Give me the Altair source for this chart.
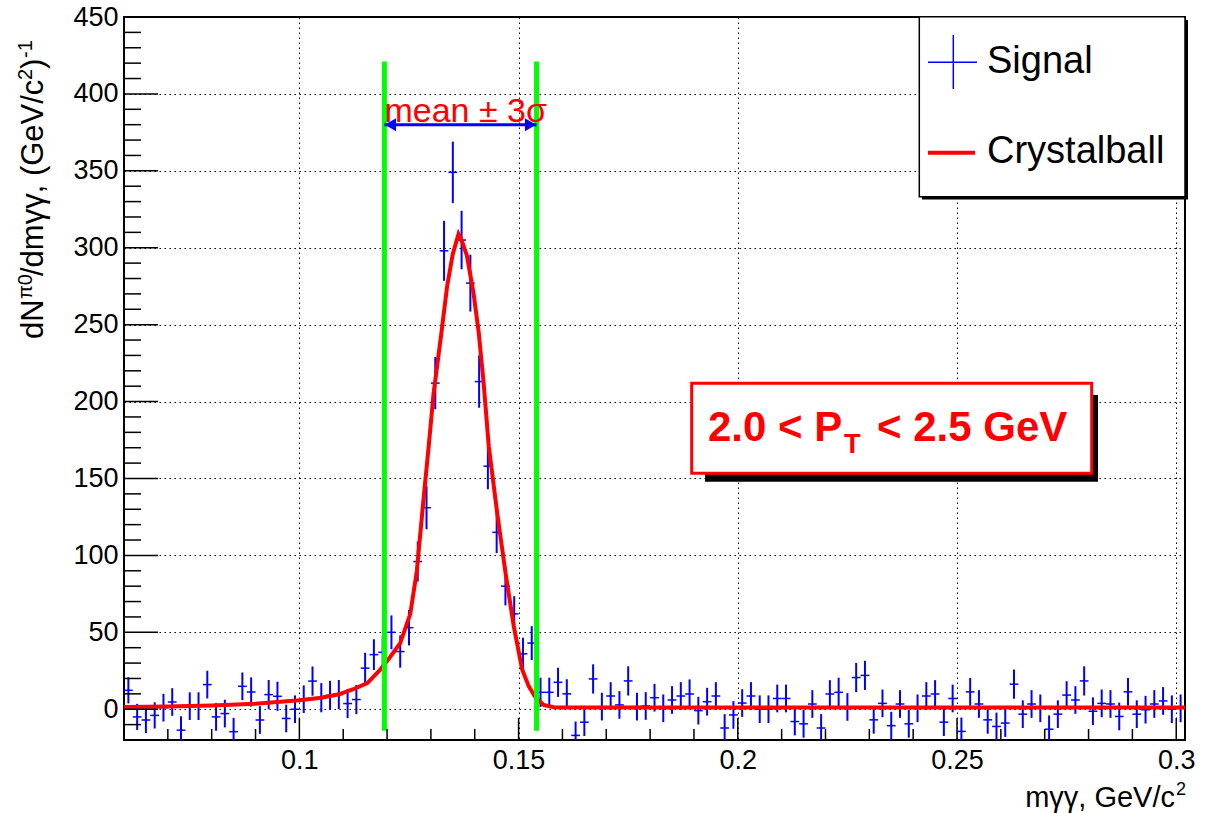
import altair as alt
import pandas as pd

FONT = "Liberation Sans"
X_MIN, X_MAX = 0.06, 0.302
Y_MIN, Y_MAX = -20, 450
W, H = 1061, 723
BIN_LO, BIN_WIDTH = 0.06, 0.002

signal_counts = [
    12.3, -5, -7, -4, 1, 4.7, -13.6, 2, 2, 16,
    -5, -2.8, -14.6, 14.9, 11.2, -7, 9.5, 8.4, -6, 0,
    6.5, 18.3, 7.5, 9, 9.5, 3.7, 6.3, 26.7, 35.5, 37,
    50, 37.5, 53, 96, 131, 212, 298, 349, 305, 277,
    213, 158, 115, 80, 62, 36, 43, 11, 11, 17.5,
    10, -17, -8.4, 19.7, 1.7, 8.6, 2.8, 18.4, 1.7, 2.1,
    7.5, 0.6, 6, 8.6, 9.9, -0.9, 4.9, 8.6, -12.2, -3.7,
    4, 8.6, 0, 0, 7, 7, -8, -9.5, 3.4, -12.2,
    9.9, 11, 1.5, 20.6, 22, -6.9, 3.8, -10.7, 3.4, -9.5,
    0.6, 8.6, 9.9, -8.4, 7, -14.4, 11.3, 3.4, -6.9, -11.2,
    -9, 16.3, -3.2, 3.4, 0.6, -13, -3.2, 9.2, 6, 18.4,
    -1.3, 3.8, 3.4, -4.7, 11.3, -3.2, -0.3, 3.4, 5.4, 0,
    0.6,
]
signal_errors = [
    8.5, 8.5, 8.5, 8.5, 9, 9, 9, 9, 9, 9,
    9, 9, 9, 9, 9.5, 9, 9.5, 9.5, 9, 9,
    9, 9.5, 9.5, 9.5, 9.5, 9.5, 9.5, 10, 10, 10.5,
    11, 10.5, 11.5, 13, 14, 17, 19.5, 20, 19, 18.5,
    17, 15, 13.5, 12.5, 11.5, 10.5, 11, 9.5, 9.5, 9.5,
    9.5, 9, 9, 9.5, 9, 9, 9, 9.5, 9, 9,
    9, 9, 9, 9, 9.5, 9, 9, 9, 9, 9,
    9, 9, 9, 9, 9, 9, 9, 9, 9, 9,
    9, 9.5, 9, 9.5, 9.5, 9, 9, 9, 9, 9,
    9, 9, 9, 9, 9, 9, 9, 9, 9, 9,
    9, 9.5, 9, 9, 9, 9, 9, 9, 9, 9.5,
    9, 9, 9, 9, 9, 9, 9, 9, 9, 9,
    9,
]

curve_x = [0.060, 0.070, 0.080, 0.090, 0.100, 0.105, 0.109, 0.1123, 0.1155, 0.1184,
           0.1207, 0.1230, 0.1253, 0.1268, 0.1283, 0.1295, 0.1306, 0.1325, 0.1337, 0.1350,
           0.1363, 0.1370, 0.1382, 0.1397, 0.1409, 0.1420, 0.1432, 0.1451, 0.1470, 0.1489,
           0.1508, 0.1523, 0.1538, 0.1557, 0.1580, 0.1600, 0.2000, 0.2500, 0.3020]
curve_y = [1.5, 1.8, 2.5, 3.6, 5.8, 7.5, 9.7, 13, 17, 25.5,
           34, 43, 62, 90, 136, 171, 205, 247, 275, 296,
           309, 305, 295, 271, 245, 213, 171, 128, 89, 54,
           26, 15, 8, 2.8, 1.3, 1.2, 1.2, 1.2, 1.2]

cut_lo, cut_hi = 0.1194, 0.1541
cut_y_lo, cut_y_hi = -14, 421
arrow_y = 380
label_y = 382

x_major = [0.1, 0.15, 0.2, 0.25, 0.3]
x_minor = [0.06, 0.07, 0.08, 0.09, 0.11, 0.12, 0.13, 0.14, 0.16, 0.17, 0.18, 0.19,
           0.21, 0.22, 0.23, 0.24, 0.26, 0.27, 0.28, 0.29]
y_major = [0, 50, 100, 150, 200, 250, 300, 350, 400, 450]
y_minor = [-20, -10, 10, 20, 30, 40, 60, 70, 80, 90, 110, 120, 130, 140, 160, 170, 180, 190,
           210, 220, 230, 240, 260, 270, 280, 290, 310, 320, 330, 340, 360, 370, 380, 390,
           410, 420, 430, 440]

# ---- tables ----
n = len(signal_counts)
pts = pd.DataFrame({
    "xc": [BIN_LO + BIN_WIDTH * (i + 0.5) for i in range(n)],
    "v": signal_counts,
    "e": signal_errors,
})
pts["xl"] = pts["xc"] - BIN_WIDTH / 2
pts["xh"] = pts["xc"] + BIN_WIDTH / 2
pts["lo"] = pts["v"] - pts["e"]
pts["hi"] = pts["v"] + pts["e"]
curve = pd.DataFrame({"x": curve_x, "y": curve_y})
one = pd.DataFrame({"a": [0]})

xs = alt.Scale(domain=[X_MIN, X_MAX], nice=False, zero=False)
ys = alt.Scale(domain=[Y_MIN, Y_MAX], nice=False, zero=False)

x_axis = alt.Axis(values=x_major, format="~g", grid=True, gridDash=[1.5, 3.5], gridColor="black",
                  gridWidth=1, gridOpacity=1, ticks=False, tickSize=0, domain=False,
                  labelFont=FONT, labelFontSize=27, labelColor="black", labelPadding=7,
                  labelFlush=False, labelOverlap=False, title=None)
y_axis = alt.Axis(values=y_major, grid=True, gridDash=[1.5, 3.5], gridColor="black",
                  gridWidth=1, gridOpacity=1, ticks=False, tickSize=0, domain=False,
                  labelFont=FONT, labelFontSize=27, labelColor="black", labelPadding=6,
                  labelFlush=False, labelOverlap=False, title=None)


def X(f):
    return alt.X(f, type="quantitative", scale=xs, axis=x_axis)


def Y(f):
    return alt.Y(f, type="quantitative", scale=ys, axis=y_axis)


base_pts = alt.Chart(pts)
vbars = base_pts.mark_rule(color="#0000ff", strokeWidth=2, clip=True).encode(
    x=X("xc"), y=Y("lo"), y2="hi")
hbars = base_pts.mark_rule(color="#0000ff", strokeWidth=1.5, clip=True).encode(
    x=X("xl"), x2="xh", y=Y("v"))

fit = alt.Chart(curve).mark_line(color="#ff0000", strokeWidth=4, clip=True).encode(
    x=X("x"), y=Y("y"))

cuts = pd.DataFrame({"x": [cut_lo, cut_hi], "y0": [cut_y_lo] * 2, "y1": [cut_y_hi] * 2})
green = alt.Chart(cuts).mark_rule(color="#00ff00", strokeWidth=5).encode(
    x=X("x"), y=Y("y0"), y2="y1")

arr = pd.DataFrame({"x0": [cut_lo], "x1": [cut_hi], "y": [arrow_y]})
arrow_line = alt.Chart(arr).mark_rule(color="#0000ff", strokeWidth=3).encode(
    x=X("x0"), x2="x1", y=Y("y"))
head_l = alt.Chart(arr).mark_point(shape="triangle-left", filled=True, color="#0000ff",
                                   size=170, opacity=1, xOffset=6).encode(x=X("x0"), y=Y("y"))
head_r = alt.Chart(arr).mark_point(shape="triangle-right", filled=True, color="#0000ff",
                                   size=170, opacity=1, xOffset=-6).encode(x=X("x1"), y=Y("y"))
lab = pd.DataFrame({"x": [cut_lo], "y": [label_y]})
mean_txt = alt.Chart(lab).mark_text(text="mean ± 3σ", font=FONT, fontSize=34, color="#ff0000",
                                    align="left", baseline="alphabetic", dx=0).encode(
    x=X("x"), y=Y("y"))

# x ticks (inward)
xt_major = alt.Chart(pd.DataFrame({"t": x_major})).mark_rule(color="black", strokeWidth=1.5).encode(
    x=X("t"), y=alt.value(H), y2=alt.value(H - 22))
xt_minor = alt.Chart(pd.DataFrame({"t": x_minor})).mark_rule(color="black", strokeWidth=1.5).encode(
    x=X("t"), y=alt.value(H), y2=alt.value(H - 11))
yt_major = alt.Chart(pd.DataFrame({"t": y_major})).mark_rule(color="black", strokeWidth=1.5).encode(
    y=Y("t"), x=alt.value(0), x2=alt.value(34))
yt_minor = alt.Chart(pd.DataFrame({"t": y_minor})).mark_rule(color="black", strokeWidth=1.5).encode(
    y=Y("t"), x=alt.value(0), x2=alt.value(17))


def rect(x0, x1, y0, y1, fill, stroke=None, sw=0):
    kw = dict(fill=fill)
    if stroke is not None:
        kw.update(stroke=stroke, strokeWidth=sw)
    return alt.Chart(one).mark_rect(**kw).encode(
        x=alt.value(x0), x2=alt.value(x1), y=alt.value(y0), y2=alt.value(y1))


def txt(s, x, y, size, color="black", angle=0, align="left", weight="normal"):
    return alt.Chart(one).mark_text(text=s, font=FONT, fontSize=size, color=color, angle=angle,
                                    align=align, baseline="alphabetic", fontWeight=weight).encode(
        x=alt.value(x), y=alt.value(y))


def seg(x0, x1, y0, y1, color, sw):
    return alt.Chart(one).mark_rule(color=color, strokeWidth=sw).encode(
        x=alt.value(x0), x2=alt.value(x1), y=alt.value(y0), y2=alt.value(y1))


# P_T box
pt_shadow = rect(581, 974, 378, 464.7, "black")
pt_box = rect(567.7, 967.7, 366.3, 456.3, "white", "#ff0000", 3)
pt_t1 = txt("2.0 < P", 584, 423.7, 42, "#ff0000", weight="bold")
pt_t2 = txt("T", 720, 436.3, 27, "#ff0000", weight="bold")
pt_t3 = txt("< 2.5 GeV", 753, 423.7, 42, "#ff0000", weight="bold")

# legend
lg_shadow = rect(798, 1064, 3, 182.5, "black")
lg_box = rect(795.3, 1061, -0.3, 179.7, "white", "black", 1.5)
lg_cross_h = seg(804, 853, 45.3, 45.3, "#0000ff", 1.5)
lg_cross_v = seg(829.3, 829.3, 18, 72, "#0000ff", 1.5)
lg_red = seg(804, 851, 135.7, 135.7, "#ff0000", 4)
lg_t1 = txt("Signal", 863, 55.7, 38)
lg_t2 = txt("Crystalball", 863, 146.3, 38)

# axis titles
xt1 = txt("mγγ, GeV/c", 1051, 789.7, 29, align="right")
xt2 = txt("2", 1052, 778, 18)
yt1 = txt("dN", -81, 322, 31, angle=270)
yt2 = txt("π0", -92, 282, 20, angle=270)
yt3 = txt("/dmγγ, (GeV/c", -81, 259, 31, angle=270)
yt4 = txt("2", -92, 63, 20, angle=270)
yt5 = txt(")", -81, 52, 31, angle=270)
yt6 = txt("-1", -92, 41, 20, angle=270)

chart = alt.layer(
    vbars, hbars, fit, green, arrow_line, head_l, head_r, mean_txt,
    xt_major, xt_minor, yt_major, yt_minor,
    pt_shadow, pt_box, pt_t1, pt_t2, pt_t3,
    lg_shadow, lg_box, lg_cross_h, lg_cross_v, lg_red, lg_t1, lg_t2,
    xt1, xt2, yt1, yt2, yt3, yt4, yt5, yt6,
).properties(
    width=W, height=H,
    autosize=alt.AutoSizeParams(type="none"),
    padding={"left": 124, "top": 17, "right": 21, "bottom": 73},
    background="white",
).configure_view(stroke="black", strokeWidth=2)

chart.save("out.html", embed_options={"renderer": "svg", "actions": False})
